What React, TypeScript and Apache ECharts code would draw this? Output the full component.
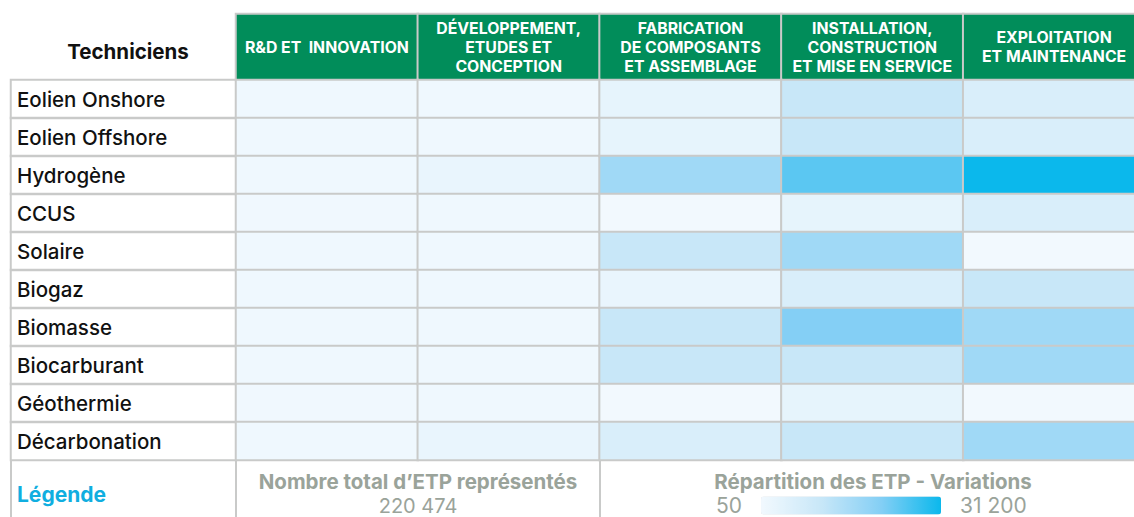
import React, { useEffect, useRef } from "react";
import * as echarts from "echarts";

const rowNames = [
  "Eolien Onshore",
  "Eolien Offshore",
  "Hydrogène",
  "CCUS",
  "Solaire",
  "Biogaz",
  "Biomasse",
  "Biocarburant",
  "Géothermie",
  "Décarbonation",
];

const colNames = [
  "R&D ET  INNOVATION",
  "DÉVELOPPEMENT,\nETUDES ET\nCONCEPTION",
  "FABRICATION\nDE COMPOSANTS\nET ASSEMBLAGE",
  "INSTALLATION,\nCONSTRUCTION\nET MISE EN SERVICE",
  "EXPLOITATION\nET MAINTENANCE",
];

// ETP per sector (rows) and value-chain stage (columns), estimated from shading
const rdInnovation = [700, 700, 700, 600, 700, 700, 700, 700, 600, 700];
const developpement = [800, 800, 2300, 800, 800, 800, 800, 800, 800, 2300];
const fabrication = [3000, 3000, 16500, 50, 10400, 2250, 10400, 10400, 50, 6200];
const installation = [10400, 10400, 24300, 3000, 16500, 6200, 20800, 10400, 3000, 10400];
const exploitation = [6200, 6200, 31200, 6200, 50, 10400, 16500, 16500, 50, 16500];

const totalEtp = "220 474";
const scaleMin = 50;
const scaleMax = 31200;
const scaleLabels = ["31 200", "50"];

const GREEN = "#018d5a";
const BORDER = "#c9cac9";
const GREY = "#9aa39a";
const FONT = "Inter";

export default function App() {
  const ref = useRef<HTMLDivElement>(null);

  useEffect(() => {
    if (!ref.current) return;
    const chart = echarts.init(ref.current, null, { renderer: "svg" });
    const columns = [rdInnovation, developpement, fabrication, installation, exploitation];
    const mainData: number[][] = [];
    columns.forEach((col, ci) => {
      col.forEach((v, ri) => mainData.push([ci, ri, v]));
    });
    const headerData = colNames.map((_, i) => [i, 0, 0]);
    const labelData = rowNames.map((_, i) => [0, i, 0]);

    chart.setOption({
      animation: false,
      textStyle: { fontFamily: FONT },
      grid: [
        { left: 11, width: 225, top: 80, height: 380, outerBoundsMode: "none" },
        { left: 236, width: 909, top: 14, height: 66, outerBoundsMode: "none" },
        { left: 236, width: 909, top: 80, height: 380, outerBoundsMode: "none" },
      ],
      xAxis: [
        { type: "category", data: [""], gridIndex: 0, show: false },
        { type: "category", data: colNames, gridIndex: 1, show: false },
        { type: "category", data: colNames, gridIndex: 2, show: false },
      ],
      yAxis: [
        {
          type: "category",
          data: rowNames,
          gridIndex: 0,
          inverse: true,
          axisLine: { show: false },
          axisTick: { show: false },
          axisLabel: {
            inside: true,
            margin: 6,
            align: "left",
            fontSize: 20.5,
            fontWeight: 500,
            color: "#111",
            fontFamily: FONT,
          },
          z: 10,
        },
        { type: "category", data: [""], gridIndex: 1, show: false },
        { type: "category", data: rowNames, gridIndex: 2, inverse: true, show: false },
      ],
      visualMap: [
        {
          type: "continuous",
          show: false,
          seriesIndex: 0,
          min: 0,
          max: 1,
          inRange: { color: ["rgba(255,255,255,0)", "rgba(255,255,255,0)"] },
        },
        {
          type: "continuous",
          show: false,
          seriesIndex: 1,
          min: 0,
          max: 1,
          inRange: { color: [GREEN, GREEN] },
        },
        {
          type: "continuous",
          seriesIndex: 2,
          min: scaleMin,
          max: scaleMax,
          orient: "horizontal",
          left: 716,
          top: 495,
          padding: 0,
          itemWidth: 18,
          itemHeight: 180,
          calculable: false,
          text: scaleLabels,
          textGap: 19,
          textStyle: { color: GREY, fontSize: 21, fontFamily: FONT },
          inRange: { color: ["#f2f9fe", "#c8e7f8", "#84cff5", "#0bb8ec"] },
        },
      ],
      title: {
        text: "Techniciens",
        left: 123,
        top: 36,
        textAlign: "center",
        textStyle: { fontSize: 20.5, fontWeight: "bold", color: "#111", fontFamily: FONT },
      },
      graphic: [
        { type: "line", shape: { x1: 11, y1: 460, x2: 11, y2: 517 }, style: { stroke: BORDER, lineWidth: 2 } },
        { type: "line", shape: { x1: 236, y1: 460, x2: 236, y2: 517 }, style: { stroke: BORDER, lineWidth: 2 } },
        { type: "line", shape: { x1: 600, y1: 460, x2: 600, y2: 517 }, style: { stroke: BORDER, lineWidth: 2 } },
        {
          type: "text",
          x: 17,
          y: 494,
          style: { text: "Légende", fill: "#10aee0", font: `bold 21px ${FONT}`, textVerticalAlign: "middle" },
        },
        {
          type: "text",
          x: 418,
          y: 481,
          style: {
            text: "Nombre total d’ETP représentés",
            fill: GREY,
            font: `bold 20.5px ${FONT}`,
            textAlign: "center",
            textVerticalAlign: "middle",
          },
        },
        {
          type: "text",
          x: 418,
          y: 506,
          style: { text: totalEtp, fill: GREY, font: `20px ${FONT}`, textAlign: "center", textVerticalAlign: "middle" },
        },
        {
          type: "text",
          x: 873,
          y: 481,
          style: {
            text: "Répartition des ETP - Variations",
            fill: GREY,
            font: `bold 20.5px ${FONT}`,
            textAlign: "center",
            textVerticalAlign: "middle",
          },
        },
      ],
      series: [
        {
          type: "heatmap",
          xAxisIndex: 0,
          yAxisIndex: 0,
          data: labelData,
          itemStyle: { borderColor: BORDER, borderWidth: 2 },
          emphasis: { disabled: true },
          z: 1,
        },
        {
          type: "heatmap",
          xAxisIndex: 1,
          yAxisIndex: 1,
          data: headerData,
          itemStyle: { borderColor: BORDER, borderWidth: 2 },
          label: {
            show: true,
            formatter: (p: any) => colNames[p.data[0]],
            color: "#fff",
            fontSize: 15.8,
            fontWeight: "bold",
            lineHeight: 19,
            align: "center",
            fontFamily: FONT,
          },
          emphasis: { disabled: true },
        },
        {
          type: "heatmap",
          xAxisIndex: 2,
          yAxisIndex: 2,
          data: mainData,
          itemStyle: { borderColor: BORDER, borderWidth: 2 },
          label: { show: false },
          emphasis: { disabled: true },
        },
      ],
    });
    return () => chart.dispose();
  }, []);

  return (
    <div
      ref={ref}
      style={{ position: "fixed", left: 0, top: 0, width: 1134, height: 517, background: "#fff" }}
    />
  );
}
